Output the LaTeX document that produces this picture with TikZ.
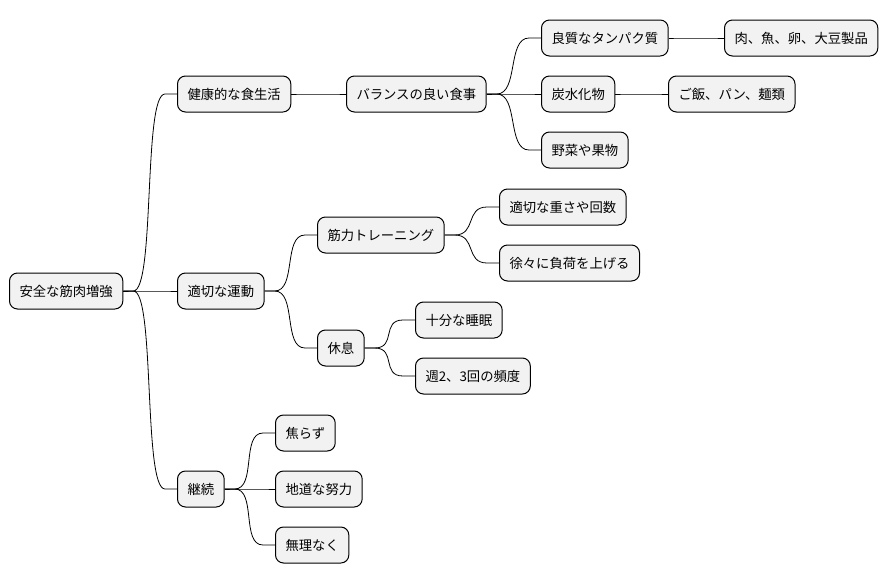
\documentclass[tikz,border=0pt]{standalone}
\usepackage{fontspec}
\newfontfamily\cjk{Noto Sans CJK JP}
\usetikzlibrary{calc}
\begin{document}
\begin{tikzpicture}[x=0.75pt,y=-0.75pt,
  box/.style={draw=black,line width=0.75pt,fill=black!5,rounded corners=6pt,
    font=\cjk\fontsize{10pt}{12pt}\selectfont,inner xsep=7.5pt,minimum height=27pt,anchor=west},
  ln/.style={line width=0.6pt}]
\useasboundingbox (0,0) rectangle (894,583);
\newcommand\lk[2]{\draw[ln] (#1.east) -- ++(10,0) .. controls +(22,0) and ($(#2.west)+(-34,0)$) .. ($(#2.west)+(-12,0)$) -- (#2.west);}
\node[box] (r) at (9,291) {安全な筋肉増強};
\node[box] (a) at (177,94) {健康的な食生活};
\node[box] (a1) at (346,94) {バランスの良い食事};
\node[box] (a11) at (541,38) {良質なタンパク質};
\node[box] (a111) at (724,38) {肉、魚、卵、大豆製品};
\node[box] (a12) at (541,94) {炭水化物};
\node[box] (a121) at (668,94) {ご飯、パン、麺類};
\node[box] (a13) at (541,150) {野菜や果物};
\node[box] (b) at (177,291) {適切な運動};
\node[box] (b1) at (317,235) {筋力トレーニング};
\node[box] (b11) at (499,207) {適切な重さや回数};
\node[box] (b12) at (499,263) {徐々に負荷を上げる};
\node[box] (b2) at (317,348) {休息};
\node[box] (b21) at (415,320) {十分な睡眠};
\node[box] (b22) at (415,376) {週2、3回の頻度};
\node[box] (c) at (177,489) {継続};
\node[box] (c1) at (275,433) {焦らず};
\node[box] (c2) at (275,489) {地道な努力};
\node[box] (c3) at (275,545) {無理なく};
\lk{r}{a}\lk{r}{b}\lk{r}{c}
\lk{a}{a1}\lk{a1}{a11}\lk{a1}{a12}\lk{a1}{a13}
\lk{a11}{a111}\lk{a12}{a121}
\lk{b}{b1}\lk{b}{b2}\lk{b1}{b11}\lk{b1}{b12}\lk{b2}{b21}\lk{b2}{b22}
\lk{c}{c1}\lk{c}{c2}\lk{c}{c3}
\end{tikzpicture}
\end{document}
